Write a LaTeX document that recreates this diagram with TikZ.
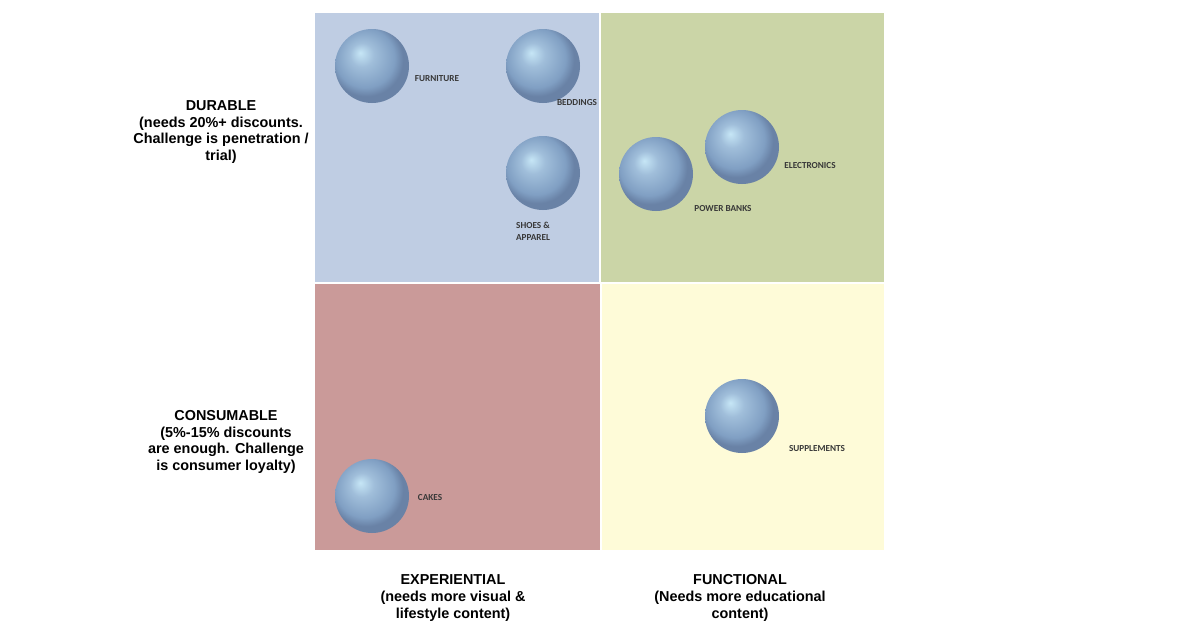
\documentclass[tikz,border=0pt]{standalone}
\usepackage{fontspec}
\setmainfont{Liberation Sans}
\newfontfamily\tagfont{Carlito}
\definecolor{durexp}{HTML}{BFCDE3}
\definecolor{durfun}{HTML}{CBD5A7}
\definecolor{conexp}{HTML}{CA9A99}
\definecolor{confun}{HTML}{FEFBD8}
\definecolor{orbhi}{HTML}{C6E6F6}
\definecolor{orbmid}{HTML}{A0BEDA}
\definecolor{orbbody}{HTML}{809FC3}
\definecolor{orbrim}{HTML}{6982A6}
\definecolor{tagtext}{HTML}{383838}
\pgfdeclareradialshading{orb}{\pgfpoint{-8bp}{9bp}}{color(0bp)=(orbhi); color(8bp)=(orbmid); color(20bp)=(orbbody); color(25bp)=(orbrim); color(50bp)=(orbrim)}
\tikzset{
  quad/.style={draw=none},
  orbball/.style={circle, minimum size=37pt, inner sep=0pt, shading=orb},
  tag/.style={font=\tagfont\bfseries\fontsize{4.6}{6}\selectfont, text=tagtext, align=center, inner sep=0pt},
  axis/.style={font=\bfseries\fontsize{7.2}{8.35}\selectfont, align=center, inner sep=0pt}
}
\begin{document}
\begin{tikzpicture}[x=0.5pt, y=-0.5pt]
\useasboundingbox[fill=white] (0,0) rectangle (1200,628);
% quadrants
\fill[durexp] (315,13) rectangle (599,282);
\fill[durfun] (601,13) rectangle (884,282);
\fill[conexp] (315,284) rectangle (600,550);
\fill[confun] (602,284) rectangle (884,550);
% products
\node[orbball] (furniture) at (372,66) {};
\node[orbball] (beddings) at (543,66) {};
\node[orbball] (shoes) at (543,173) {};
\node[orbball] (powerbanks) at (656,174) {};
\node[orbball] (electronics) at (742,147) {};
\node[orbball] (supplements) at (742,416) {};
\node[orbball] (cakes) at (372,496) {};
\node[tag] (furniturelbl) at (437,79) {FURNITURE};
\node[tag] (beddingslbl) at (577,103) {BEDDINGS};
\node[tag] (shoeslbl) at (533,231) {SHOES \&\\APPAREL};
\node[tag] (powerbankslbl) at (723,209) {POWER BANKS};
\node[tag] (electronicslbl) at (810,166) {ELECTRONICS};
\node[tag] (supplementslbl) at (817,449) {SUPPLEMENTS};
\node[tag] (cakeslbl) at (430,498) {CAKES};
% axis texts
\node[axis] (durable) at (221,132) {DURABLE\\(needs 20\%+ discounts.\\Challenge is penetration /\\trial)};
\node[axis] (consumable) at (226,442) {CONSUMABLE\\(5\%-15\% discounts\\are enough. Challenge\\is consumer loyalty)};
\node[axis] (experiential) at (453,598) {EXPERIENTIAL\\(needs more visual \&\\lifestyle content)};
\node[axis] (functional) at (740,598) {FUNCTIONAL\\(Needs more educational\\content)};
\end{tikzpicture}
\end{document}
